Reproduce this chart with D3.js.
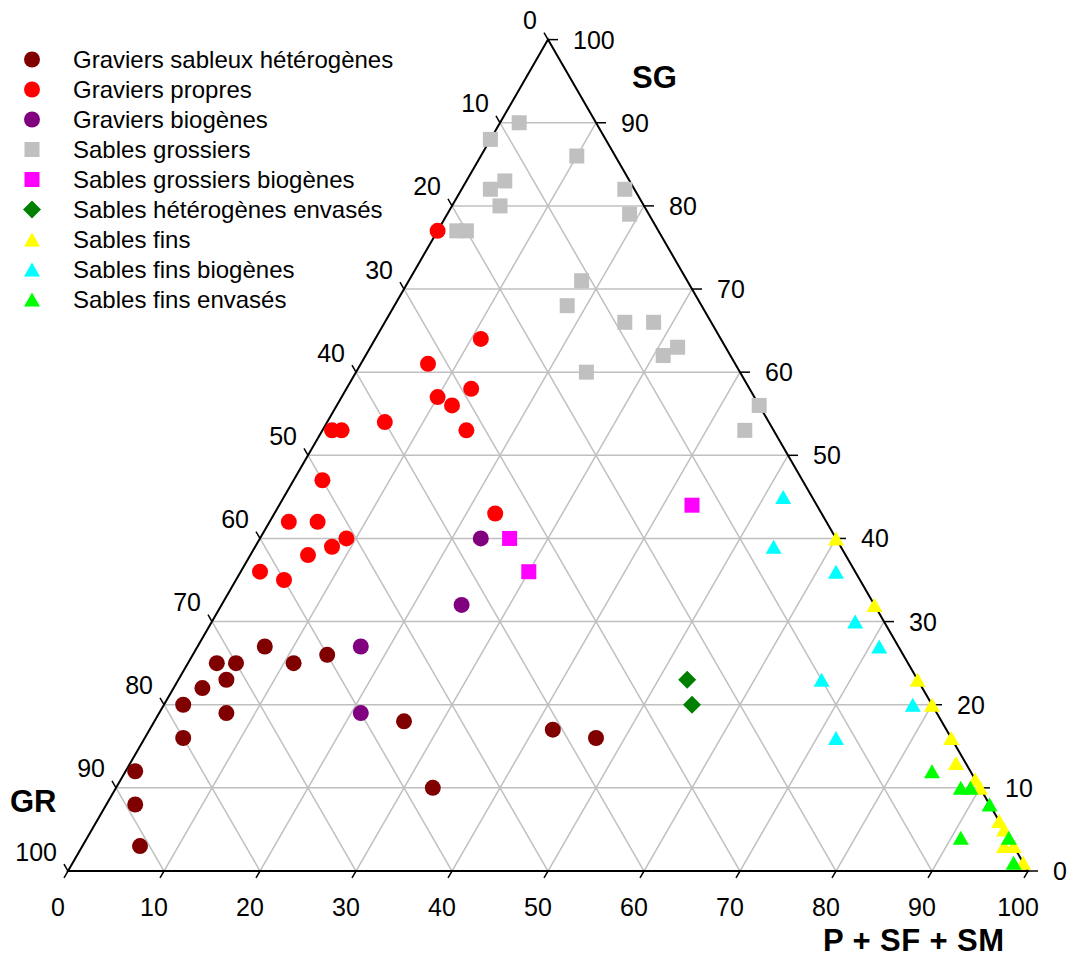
<!DOCTYPE html>
<html>
<head>
<meta charset="utf-8">
<script src="https://cdn.jsdelivr.net/npm/d3@7"></script>
<style>
  html, body { margin: 0; padding: 0; background: #fff; }
  svg { display: block; font-family: "Liberation Sans", Arial, sans-serif; }
</style>
</head>
<body>
<svg id="chart" width="1068" height="958"></svg>
<script>
// ---- Data (percentages: P = P+SF+SM, SG, GR = 100 - P - SG) ----
const seriesNames = [
  "Graviers sableux hétérogènes", "Graviers propres", "Graviers biogènes",
  "Sables grossiers", "Sables grossiers biogènes", "Sables hétérogènes envasés",
  "Sables fins", "Sables fins biogènes", "Sables fins envasés"
];
const gshSG = [27, 25, 25, 25, 26, 23, 22, 20, 19, 16, 18, 12, 8, 3, 10, 17, 16];
const gshP  = [7, 3, 5, 11, 14, 5, 3, 2, 7, 4, 26, 1, 3, 6, 33, 42, 47];
const gpSG = [64, 61, 58, 57, 56, 54, 53, 53, 53, 47, 43, 42, 42, 40, 39, 38, 36, 35, 77];
const gpP  = [11, 7, 13, 10, 12, 6, 15, 1, 2, 3, 23, 2, 5, 9, 8, 6, 2, 5, 0];
const gbSG = [27, 19, 40, 32];
const gbP  = [17, 21, 23, 25];
const sgSG = [90, 88, 86, 83, 82, 82, 80, 79, 77, 77, 71, 68, 66, 66, 63, 62, 60, 56, 53];
const sgP  = [2, 0, 10, 4, 3, 17, 5, 19, 2, 3, 18, 18, 25, 28, 32, 31, 24, 44, 44];
const sgbSG = [40, 36, 44];
const sgbP  = [26, 30, 43];
const sheSG = [23, 20];
const sheP  = [53, 55];
const sfSG = [40, 32, 23, 20, 16, 13, 11, 10, 6, 5, 3, 3, 1];
const sfP  = [60, 68, 77, 80, 84, 86, 89, 90, 94, 95, 96, 97, 99];
const sfbSG = [45, 39, 36, 30, 27, 23, 20, 16];
const sfbP  = [52, 54, 62, 67, 71, 67, 78, 72];
const sfeSG = [12, 10, 10, 8, 4, 4, 1];
const sfeP  = [84, 88, 89, 92, 91, 96, 98];
const tickValues = [0, 10, 20, 30, 40, 50, 60, 70, 80, 90, 100];
const axisTitles = ["SG", "GR", "P + SF + SM"];

const series = [
  {name: seriesNames[0], sg: gshSG, p: gshP, shape: "circle", color: "#800000"},
  {name: seriesNames[1], sg: gpSG, p: gpP, shape: "circle", color: "#ff0000"},
  {name: seriesNames[2], sg: gbSG, p: gbP, shape: "circle", color: "#800080"},
  {name: seriesNames[3], sg: sgSG, p: sgP, shape: "square", color: "#c0c0c0"},
  {name: seriesNames[4], sg: sgbSG, p: sgbP, shape: "square", color: "#ff00ff"},
  {name: seriesNames[5], sg: sheSG, p: sheP, shape: "diamond", color: "#008000"},
  {name: seriesNames[6], sg: sfSG, p: sfP, shape: "triangle", color: "#ffff00"},
  {name: seriesNames[7], sg: sfbSG, p: sfbP, shape: "triangle", color: "#00ffff"},
  {name: seriesNames[8], sg: sfeSG, p: sfeP, shape: "triangle", color: "#00ff00"}
];

// ---- Geometry ----
const svg = d3.select("#chart");
const left = 68, right = 1028, base = 871;
const side = right - left;
const h = side * Math.sqrt(3) / 2;
const xs = d3.scaleLinear().domain([0, 100]).range([left, right]);
const ys = d3.scaleLinear().domain([0, 100]).range([base, base - h]);
const pt = (p, sg) => [xs(p + sg / 2), ys(sg)];

// grid
const grid = svg.append("g").attr("stroke", "#c0c0c0").attr("stroke-width", 1.5).attr("fill", "none");
tickValues.filter(v => v > 0 && v < 100).forEach(v => {
  const segs = [
    [pt(0, v), pt(100 - v, v)],          // SG constant
    [pt(v, 0), pt(v, 100 - v)],          // P constant
    [pt(100 - v, 0), pt(0, 100 - v)]     // GR constant
  ];
  segs.forEach(s => grid.append("line")
    .attr("x1", s[0][0]).attr("y1", s[0][1]).attr("x2", s[1][0]).attr("y2", s[1][1]));
});

// triangle frame
const A = pt(0, 0), B = pt(100, 0), C = pt(0, 100);
svg.append("path")
  .attr("d", `M${A[0]},${A[1]}L${B[0]},${B[1]}L${C[0]},${C[1]}Z`)
  .attr("fill", "none").attr("stroke", "#000").attr("stroke-width", 2);

// ticks & labels
const ticks = svg.append("g").attr("stroke", "#000").attr("stroke-width", 1.5);
const labels = svg.append("g").attr("font-size", 25).attr("fill", "#000");
const tl = 8, c60 = 0.5, s60 = Math.sqrt(3) / 2;
tickValues.forEach(v => {
  // bottom: P
  const b = pt(v, 0);
  ticks.append("line").attr("x1", b[0]).attr("y1", b[1])
    .attr("x2", b[0] - tl * c60).attr("y2", b[1] + tl * s60);
  labels.append("text").attr("x", b[0] - 10).attr("y", b[1] + 36)
    .attr("text-anchor", "middle").attr("dominant-baseline", "central").text(v);
  // right: SG
  const r = pt(100 - v, v);
  ticks.append("line").attr("x1", r[0]).attr("y1", r[1])
    .attr("x2", r[0] + 10).attr("y2", r[1]);
  labels.append("text").attr("x", r[0] + 25).attr("y", r[1])
    .attr("text-anchor", "start").attr("dominant-baseline", "central").text(v);
  // left: GR
  const l = pt(0, 100 - v);
  ticks.append("line").attr("x1", l[0]).attr("y1", l[1])
    .attr("x2", l[0] - tl * c60).attr("y2", l[1] - tl * s60);
  labels.append("text").attr("x", l[0] - 11).attr("y", l[1] - 19.5)
    .attr("text-anchor", "end").attr("dominant-baseline", "central").text(v);
});

// axis titles
const titles = svg.append("g").attr("font-size", 31).attr("font-weight", "bold").attr("fill", "#000");
titles.append("text").attr("x", 632).attr("y", 88).text(axisTitles[0]);
titles.append("text").attr("x", 10).attr("y", 812).text(axisTitles[1]);
titles.append("text").attr("x", 823).attr("y", 951).attr("textLength", 181)
  .attr("lengthAdjust", "spacing").text(axisTitles[2]);

// markers
function drawMarker(g, shape, x, y, color) {
  if (shape === "circle") {
    g.append("circle").attr("cx", x).attr("cy", y).attr("r", 8).attr("fill", color);
  } else if (shape === "square") {
    g.append("rect").attr("x", x - 7.5).attr("y", y - 7.5).attr("width", 15).attr("height", 15).attr("fill", color);
  } else if (shape === "diamond") {
    const d = 9;
    g.append("path").attr("d", `M${x},${y - d}L${x + d},${y}L${x},${y + d}L${x - d},${y}Z`).attr("fill", color);
  } else {
    const w = 8, hh = 7;
    g.append("path").attr("d", `M${x},${y - hh}L${x + w},${y + hh}L${x - w},${y + hh}Z`).attr("fill", color);
  }
}
const marks = svg.append("g");
series.forEach(s => {
  s.sg.forEach((sg, i) => {
    const [x, y] = pt(s.p[i], sg);
    drawMarker(marks, s.shape, x, y, s.color);
  });
});

// legend
const legend = svg.append("g");
series.forEach((s, i) => {
  const y = 59.5 + i * 30;
  drawMarker(legend, s.shape, 32, y, s.color);
  legend.append("text").attr("x", 73).attr("y", y).attr("dominant-baseline", "central")
    .attr("font-size", 24).attr("fill", "#000").text(s.name);
});
</script>
</body>
</html>
